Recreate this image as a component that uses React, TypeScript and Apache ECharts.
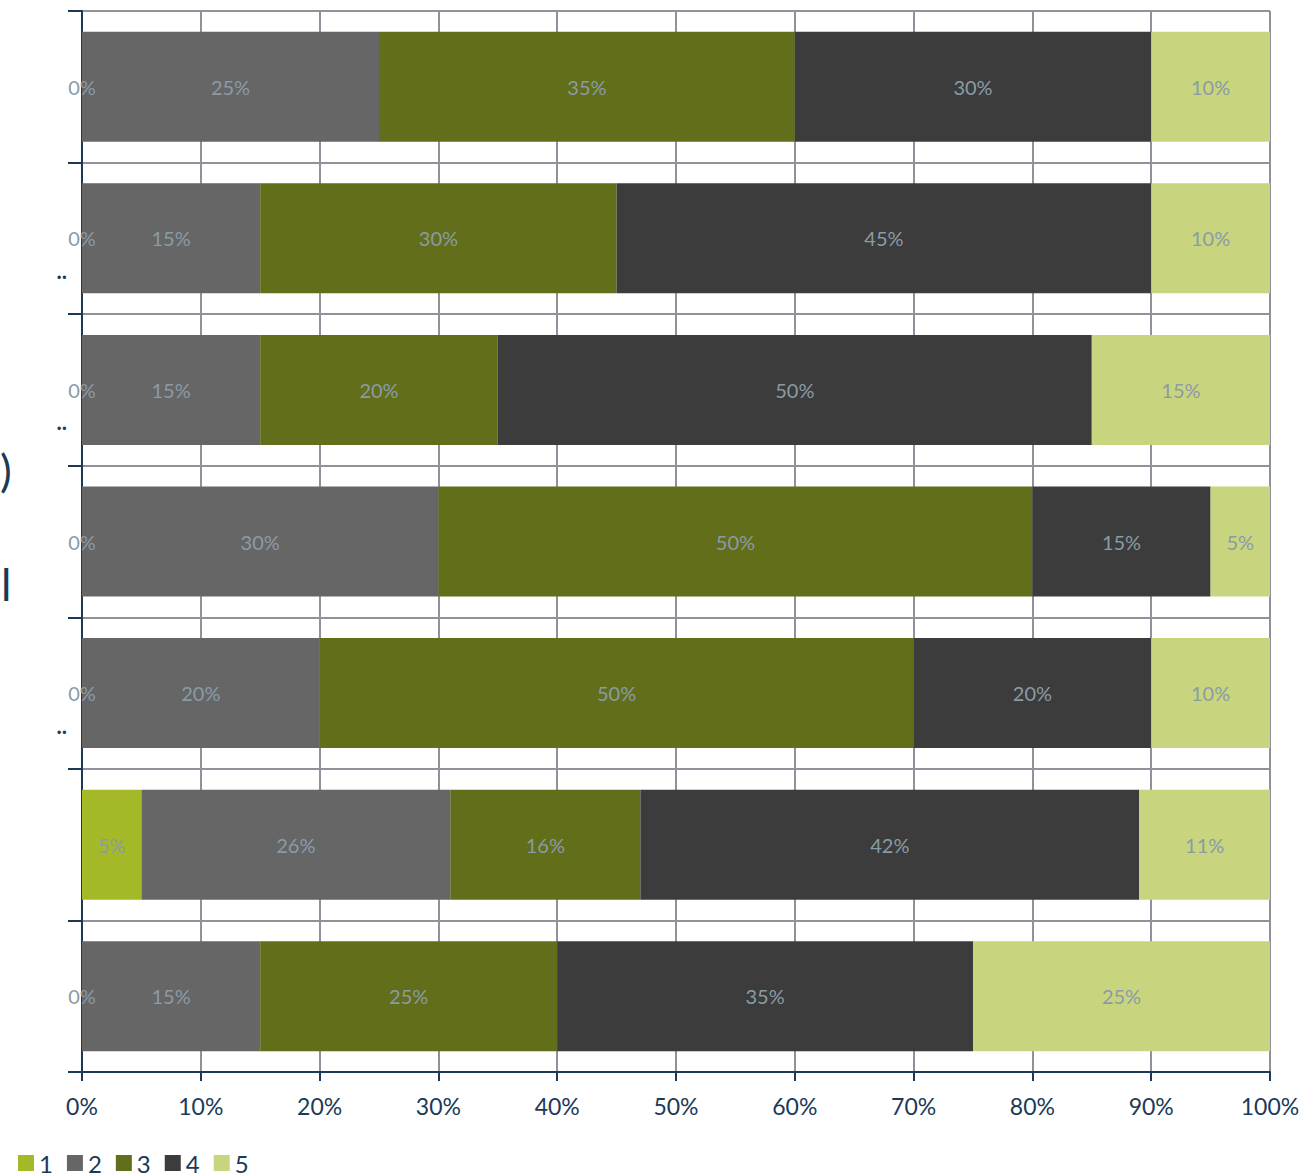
import React, { useEffect, useRef } from "react";
import * as echarts from "echarts";

const categories = ["A", "B", "C", "D", "E", "F", "G"];
const categoryLabels = ["", "..", "..", "", "..", "", ""];
const seriesNames = ["1", "2", "3", "4", "5"];
const s1 = [0, 0, 0, 0, 0, 5, 0];
const s2 = [25, 15, 15, 30, 20, 26, 15];
const s3 = [35, 30, 20, 50, 50, 16, 25];
const s4 = [30, 45, 50, 15, 20, 42, 35];
const s5 = [10, 10, 15, 5, 10, 11, 25];
const seriesValues = [s1, s2, s3, s4, s5];
const colors = ["#a5b928", "#666666", "#626e1a", "#3c3c3c", "#c8d57e"];
const xTicks = [0, 10, 20, 30, 40, 50, 60, 70, 80, 90, 100];

const navy = "#1b3a57";
const font = "Lato, 'Open Sans', sans-serif";

export default function App() {
  const ref = useRef<HTMLDivElement>(null);
  useEffect(() => {
    if (!ref.current) return;
    const chart = echarts.init(ref.current, null, { renderer: "svg" });
    const labelMap: Record<string, string> = {};
    categories.forEach((c, i) => (labelMap[c] = categoryLabels[i]));
    chart.setOption({
      animation: false,
      textStyle: { fontFamily: font },
      grid: { left: 82, right: 37, top: 11, bottom: 104, containLabel: false },
      legend: {
        left: 13,
        top: 1146,
        padding: [5, 5, 5, 5],
        itemWidth: 16,
        itemHeight: 16,
        itemGap: 14,
        icon: "rect",
        textStyle: { fontSize: 24, lineHeight: 24, color: navy, fontFamily: font },
        data: seriesNames,
      },
      xAxis: {
        type: "value",
        min: xTicks[0],
        max: xTicks[xTicks.length - 1],
        interval: 10,
        axisLine: { show: true, lineStyle: { color: navy, width: 2 } },
        axisTick: { show: true, length: 9, lineStyle: { color: navy, width: 2 } },
        axisLabel: {
          formatter: (v: number) => v + "%",
          fontSize: 23,
          color: navy,
          margin: 22,
          fontFamily: font,
        },
        splitLine: { show: true, lineStyle: { color: "#90929b", width: 2 } },
      },
      yAxis: {
        type: "category",
        data: categories,
        inverse: true,
        axisLine: { show: true, lineStyle: { color: navy, width: 2 } },
        axisTick: { show: true, length: 14, lineStyle: { color: navy, width: 2 } },
        axisLabel: {
          formatter: (v: string) => (labelMap[v] ? "\n\n\n\n" + labelMap[v] : ""),
          fontSize: 22,
          lineHeight: 16,
          color: navy,
          fontWeight: "bold",
          margin: 15,
          fontFamily: font,
        },
        splitLine: { show: true, lineStyle: { color: "#90929b", width: 2 } },
      },
      graphic: [
        {
          type: "text",
          left: 0,
          top: 448,
          style: { text: ")", fontSize: 44, fill: navy, fontFamily: font },
        },
        {
          type: "text",
          left: 1,
          top: 562,
          style: { text: "l", fontSize: 44, fill: navy, fontFamily: font },
        },
      ],
      series: seriesNames.map((name, i) => ({
        name,
        type: "bar",
        stack: "total",
        barWidth: 110,
        data: seriesValues[i],
        itemStyle: { color: colors[i] },
        label: {
          show: true,
          position: "inside",
          formatter: (p: any) => p.value + "%",
          color: "#8a9ba6",
          fontSize: 20,
          fontFamily: font,
        },
      })),
    });
    return () => chart.dispose();
  }, []);
  return (
    <div
      ref={ref}
      style={{ position: "fixed", left: 0, top: 0, width: 1307, height: 1176, background: "#fff" }}
    />
  );
}
